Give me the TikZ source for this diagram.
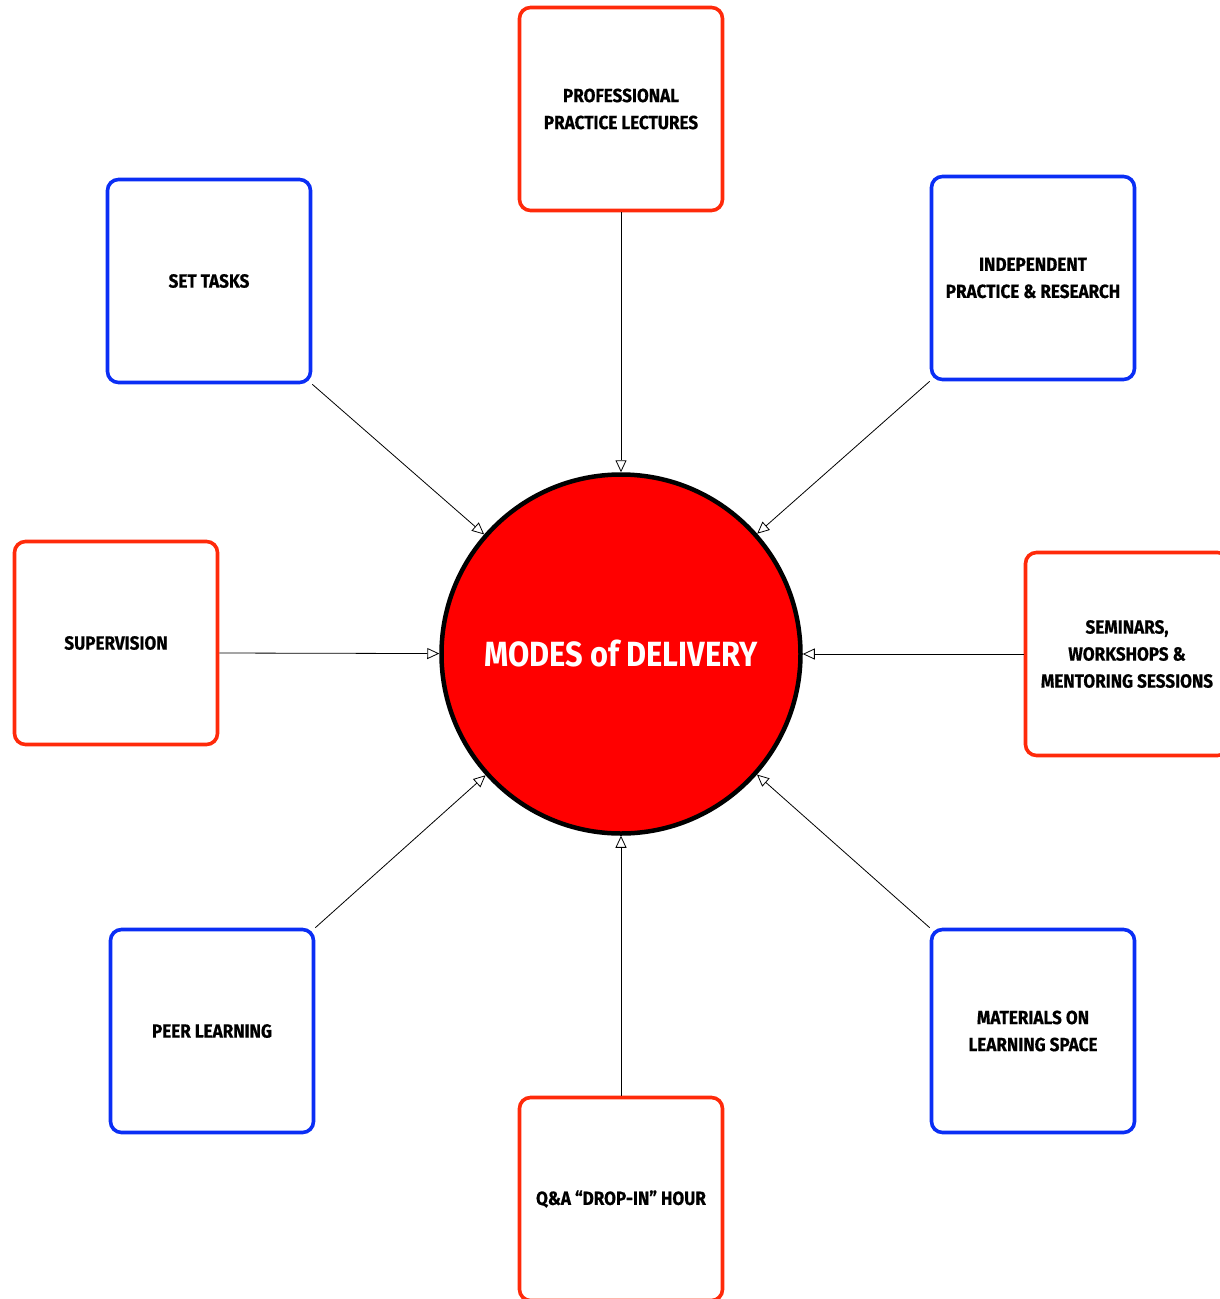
\documentclass[tikz,border=0pt]{standalone}
\usepackage{fontspec}
\usetikzlibrary{arrows.meta}
\newfontfamily\lblfont[FakeStretch=0.9, FakeBold=0.6]{Fira Sans}
\newfontfamily\hubfont[FakeStretch=0.88]{Fira Sans}
\definecolor{boxred}{HTML}{FF2A0A}
\definecolor{boxblue}{HTML}{0A2EF5}
\definecolor{circred}{HTML}{FF0000}
\begin{document}
\begin{tikzpicture}[x=1pt,y=-1pt,
  box/.style={draw, line width=3.6pt, rounded corners=11pt, minimum width=203pt, minimum height=203pt,
    align=center, font=\lblfont\bfseries\fontsize{19}{27}\selectfont, inner sep=0pt},
  redbox/.style={box, draw=boxred},
  bluebox/.style={box, draw=boxblue},
  conn/.style={line width=0.8pt, -{Triangle[open, length=12pt, width=11pt, line width=0.8pt]}},
  hub/.style={circle, draw=black, line width=4.5pt, fill=circred, minimum size=359pt, inner sep=0pt,
    text=white, font=\hubfont\bfseries\fontsize{35}{38}\selectfont}]
\useasboundingbox (0,0) rectangle (1219,1299);
\node[hub] (hub) at (621,654) {MODES of DELIVERY};
\node[redbox] (prof) at (621,109) {PROFESSIONAL\\PRACTICE LECTURES};
\node[bluebox] (set) at (209,281) {SET TASKS};
\node[bluebox] (ind) at (1033,278) {INDEPENDENT\\PRACTICE \& RESEARCH};
\node[redbox] (sup) at (116,643) {SUPERVISION};
\node[redbox] (sem) at (1127,654) {SEMINARS,\\WORKSHOPS \&\\MENTORING SESSIONS};
\node[bluebox] (peer) at (212,1031) {PEER LEARNING};
\node[bluebox] (mat) at (1033,1031) {MATERIALS ON\\LEARNING SPACE};
\node[redbox] (qa) at (621,1199) {Q\&A “DROP-IN” HOUR};
\draw[conn] (prof.south) -- (hub);
\draw[conn] (set.south east) -- (hub);
\draw[conn] (ind.south west) -- (hub);
\draw[conn] (sup.east |- 0,653) -- (hub);
\draw[conn] (sem.west) -- (hub);
\draw[conn] (peer.north east) -- (hub);
\draw[conn] (mat.north west) -- (hub);
\draw[conn] (qa.north) -- (hub);
\end{tikzpicture}
\end{document}
